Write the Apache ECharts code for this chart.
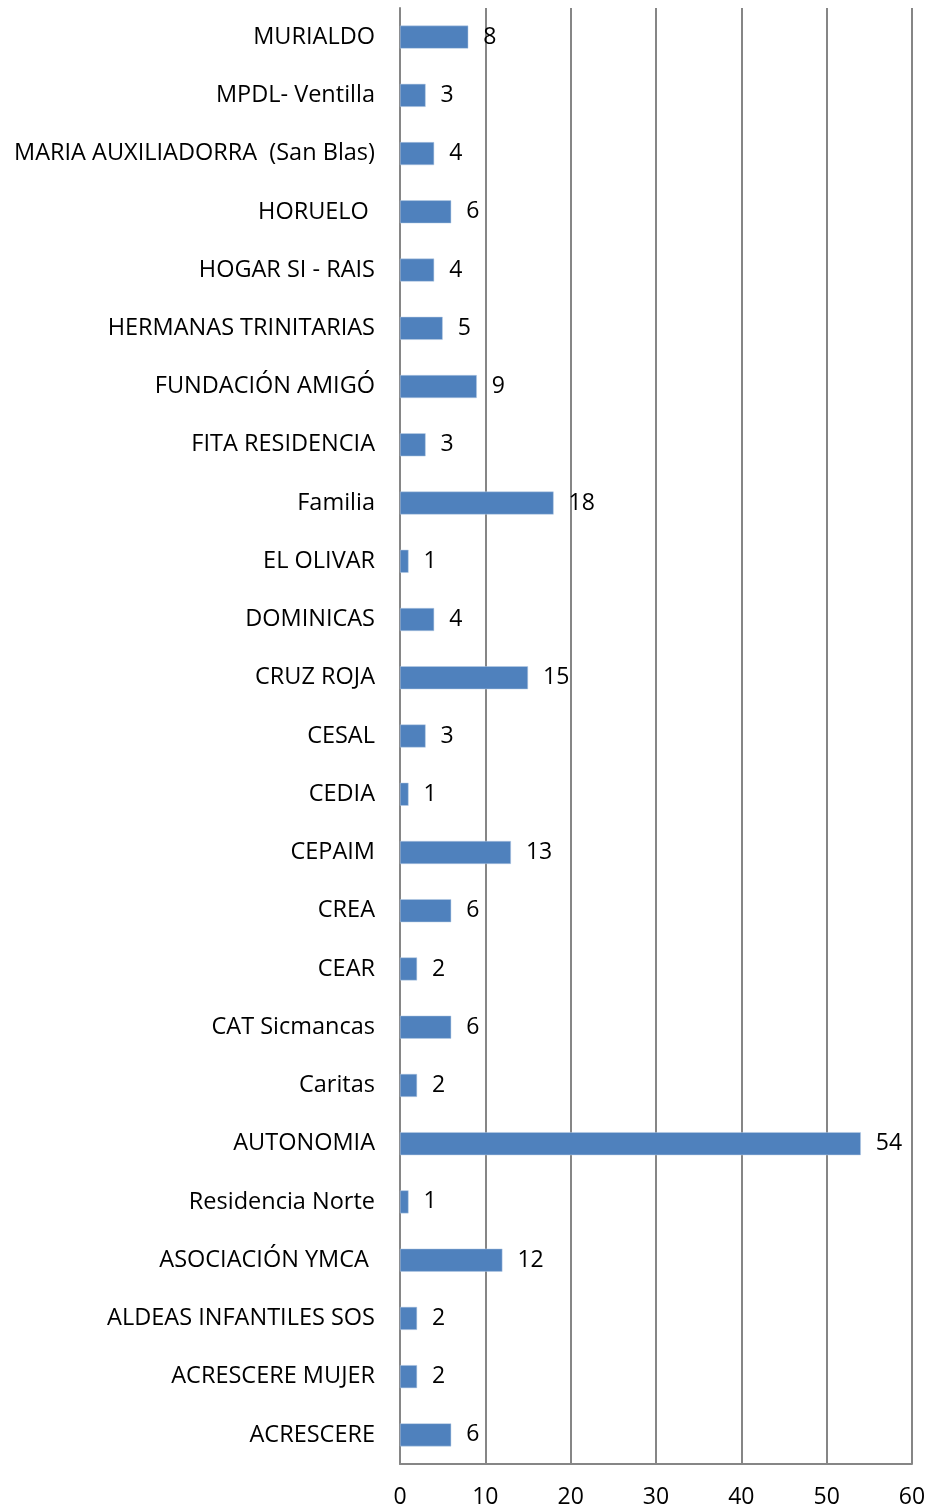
<!DOCTYPE html>
<html>
<head>
<meta charset="utf-8">
<script src="https://cdn.jsdelivr.net/npm/echarts@6/dist/echarts.min.js"></script>
<style>
  html, body { margin: 0; padding: 0; background: #fff; }
  #chart { width: 929px; height: 1508px; }
</style>
</head>
<body>
<div id="chart"></div>
<script>
// categories, top to bottom as in the picture
var centros = [
  "MURIALDO", "MPDL- Ventilla", "MARIA AUXILIADORRA  (San Blas)", "HORUELO ",
  "HOGAR SI - RAIS", "HERMANAS TRINITARIAS", "FUNDACIÓN AMIGÓ", "FITA RESIDENCIA",
  "Familia", "EL OLIVAR", "DOMINICAS", "CRUZ ROJA", "CESAL", "CEDIA", "CEPAIM",
  "CREA", "CEAR", "CAT Sicmancas", "Caritas", "AUTONOMIA", "Residencia Norte",
  "ASOCIACIÓN YMCA ", "ALDEAS INFANTILES SOS", "ACRESCERE MUJER", "ACRESCERE"
];
var valores = [8, 3, 4, 6, 4, 5, 9, 3, 18, 1, 4, 15, 3, 1, 13, 6, 2, 6, 2, 54, 1, 12, 2, 2, 6];

var font = "Open Sans";
var chart = echarts.init(document.getElementById("chart"));

chart.setOption({
  animation: false,
  grid: { left: 400, right: 17, top: 8, bottom: 44, outerBoundsMode: "none" },
  xAxis: {
    type: "value",
    min: 0,
    max: 60,
    interval: 10,
    axisLine: { show: true, lineStyle: { color: "#868686", width: 2 } },
    axisTick: { show: false },
    axisLabel: { color: "#000", fontFamily: font, fontSize: 23, margin: 22 },
    splitLine: { show: true, lineStyle: { color: "#868686", width: 2 } }
  },
  yAxis: {
    type: "category",
    inverse: true,
    data: centros,
    axisLine: { show: true, lineStyle: { color: "#868686", width: 2 } },
    axisTick: { show: false },
    axisLabel: { color: "#000", fontFamily: font, fontSize: 23.5, margin: 25, padding: [4, 0, 0, 0] }
  },
  series: [
    {
      type: "bar",
      data: valores,
      barWidth: 23,
      itemStyle: { color: "#4F81BD", borderColor: "#B9CDE5", borderWidth: 0.5 },
      label: {
        show: true,
        position: "right",
        distance: 15,
        color: "#000",
        fontFamily: font,
        fontSize: 23,
        padding: [4, 0, 0, 0]
      }
    }
  ]
});
</script>
</body>
</html>
